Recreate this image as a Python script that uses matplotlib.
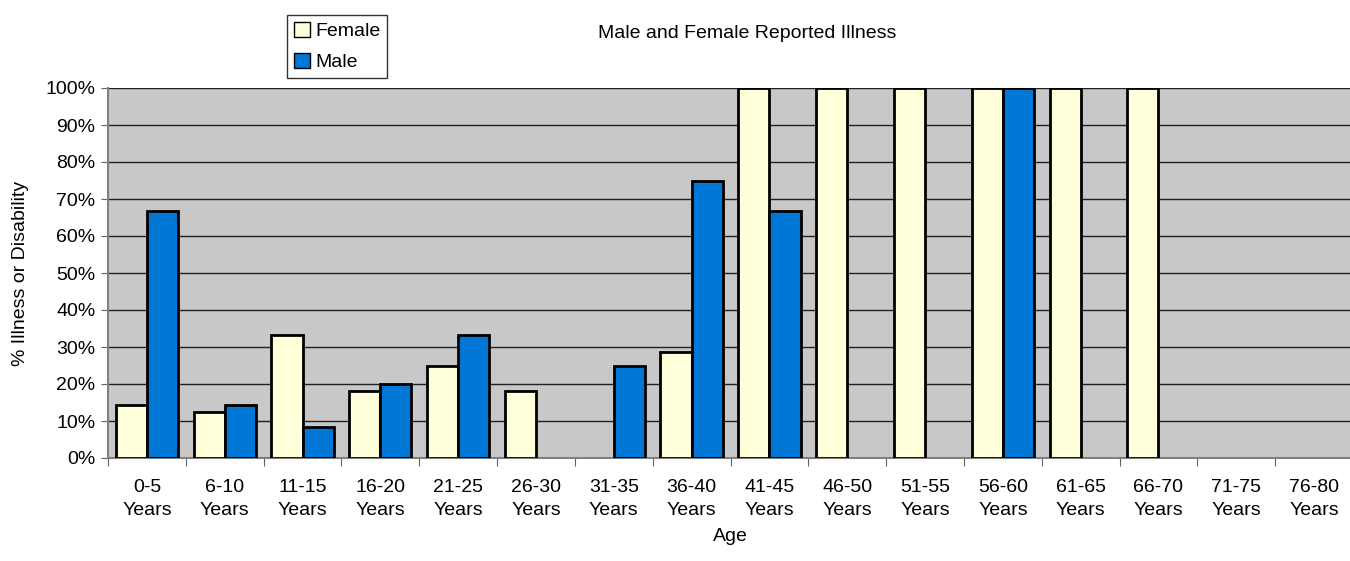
import numpy as np
import matplotlib.pyplot as plt
from matplotlib.patches import Patch

plt.rcParams['font.family'] = ['Liberation Sans', 'DejaVu Sans']

age_groups = ['0-5', '6-10', '11-15', '16-20', '21-25', '26-30', '31-35', '36-40',
              '41-45', '46-50', '51-55', '56-60', '61-65', '66-70', '71-75', '76-80']
female = [14.3, 12.5, 33.3, 18.2, 25.0, 18.2, 0, 28.6,
          100, 100, 100, 100, 100, 100, 0, 0]
male = [66.7, 14.3, 8.3, 20.0, 33.3, 0, 25.0, 75.0,
        66.7, 0, 0, 100, 0, 0, 0, 0]

female_color = '#FFFFD9'
male_color = '#0077D4'
fs = 14

fig = plt.figure(figsize=(13.5, 5.61), dpi=100)
ax = fig.add_axes([108 / 1350, 1 - 458 / 561, 1245 / 1350, 370 / 561])
ax.set_facecolor('#C8C8C8')

x = np.arange(len(age_groups))
w = 0.4
f = np.array(female, dtype=float)
m = np.array(male, dtype=float)
# empty groups get no bar at all (no outline on the baseline)
fm, mm = f > 0, m > 0
ax.bar(x[fm] - w / 2, f[fm], w, color=female_color, edgecolor='black', linewidth=2, zorder=3)
ax.bar(x[mm] + w / 2, m[mm], w, color=male_color, edgecolor='black', linewidth=2, zorder=3)

ax.set_xlim(-0.5, len(age_groups) - 0.5)
ax.set_ylim(0, 100)
ax.set_yticks(np.arange(0, 101, 10))
ax.set_yticklabels([f'{v}%' for v in range(0, 101, 10)], fontsize=fs)
ax.yaxis.grid(True, color='#202020', linewidth=1, zorder=0)
ax.set_axisbelow(True)

# category ticks sit on boundaries, labels centred on groups
ax.set_xticks(np.arange(-0.5, len(age_groups), 1))
ax.set_xticklabels([])
ax.set_xticks(x, minor=True)
ax.set_xticklabels([f'{a}\nYears' for a in age_groups], minor=True, fontsize=fs,
                   linespacing=1.5)
ax.tick_params(axis='x', which='minor', length=0, pad=15)
ax.tick_params(axis='x', which='major', length=6, color='#606060')
ax.tick_params(axis='y', length=5, color='#606060', pad=4)

for side in ['top', 'right']:
    ax.spines[side].set_visible(False)
ax.spines['left'].set_color('#808080')
ax.spines['bottom'].set_color('#808080')
ax.spines['left'].set_linewidth(1.5)
ax.spines['bottom'].set_linewidth(1.5)

ax.set_ylabel('% Illness or Disability', fontsize=fs, labelpad=12)
ax.set_xlabel('Age', fontsize=fs, labelpad=6)
fig.text(747 / 1350, 1 - 34 / 561, 'Male and Female Reported Illness',
         ha='center', va='center', fontsize=fs)

handles = [Patch(facecolor=female_color, edgecolor='black', label='Female'),
           Patch(facecolor=male_color, edgecolor='black', label='Male')]
leg = fig.legend(handles=handles, loc='upper left', bbox_to_anchor=(287 / 1350, 1 - 15 / 561),
                 fontsize=fs, frameon=True, fancybox=False, edgecolor='black',
                 handlelength=0.85, handleheight=0.85, handletextpad=0.25,
                 borderpad=0.35, labelspacing=0.65, borderaxespad=0)
leg.get_frame().set_linewidth(1)

fig.savefig('out.png', dpi=100)
